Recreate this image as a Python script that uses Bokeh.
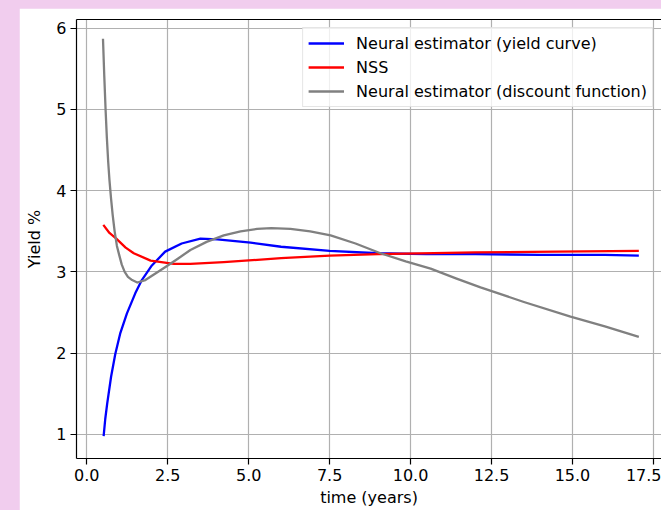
from bokeh.plotting import figure
from bokeh.models import (ColumnDataSource, Range1d, FixedTicker, NumeralTickFormatter,
                          LinearAxis, Legend, LegendItem)
from bokeh.embed import file_html
from bokeh.resources import INLINE

# ---- data ----
t_nn = [0.52, 0.57, 0.63, 0.75, 0.88, 1.03, 1.24, 1.5, 1.7, 2.01, 2.42, 2.93, 3.51, 4.03, 5.06,
        6.0, 7.5, 9.0, 10.5, 12.0, 14.0, 16.0, 17.05]
y_nn = [0.98, 1.19, 1.38, 1.71, 1.99, 2.24, 2.49, 2.74, 2.90, 3.08, 3.25, 3.35, 3.41, 3.40, 3.36,
        3.31, 3.26, 3.23, 3.22, 3.22, 3.21, 3.21, 3.20]

t_nss = [0.51, 0.7, 0.91, 1.2, 1.45, 1.97, 2.69, 3.2, 4.23, 6.0, 7.5, 9.0, 12.0, 14.5, 17.05]
y_nss = [3.58, 3.48, 3.41, 3.30, 3.23, 3.14, 3.10, 3.10, 3.12, 3.17, 3.20, 3.22, 3.24, 3.25, 3.26]

t_df = [0.5, 0.54, 0.58, 0.62, 0.66, 0.70, 0.75, 0.80, 0.86, 0.93, 1.0, 1.08, 1.17, 1.27, 1.4,
        1.56, 1.81, 2.12, 2.43, 2.8, 3.2, 3.7, 4.23, 4.75, 5.26, 5.7, 6.29, 6.9, 7.53, 8.3,
        9.07, 9.85, 10.62, 11.4, 12.16, 13.5, 14.94, 16.0, 17.05]
y_df = [5.87, 5.41, 5.00, 4.65, 4.36, 4.13, 3.90, 3.70, 3.50, 3.32, 3.21, 3.09, 3.00, 2.94, 2.90,
        2.87, 2.90, 2.98, 3.06, 3.16, 3.27, 3.37, 3.45, 3.50, 3.53, 3.54, 3.53, 3.50, 3.45, 3.35,
        3.23, 3.13, 3.04, 2.92, 2.81, 2.63, 2.45, 2.33, 2.20]

x_ticks = [0.0, 2.5, 5.0, 7.5, 10.0, 12.5, 15.0, 17.5]
y_ticks = [1, 2, 3, 4, 5, 6]

labels = ["Neural estimator (yield curve)", "NSS", "Neural estimator (discount function)"]
colors = ["#0000ff", "#ff0000", "#808080"]

FONT = "DejaVu Sans"
FS = "16px"

p = figure(width=642, height=502, output_backend="svg", toolbar_location=None,
           x_range=Range1d(-0.318, 17.75), y_range=Range1d(0.704, 6.107),
           min_border_left=57, min_border_top=11, min_border_bottom=52, min_border_right=0,
           x_axis_label="time (years)", y_axis_label="Yield %")
p.outline_line_color = None
p.background_fill_color = "white"
p.border_fill_color = "white"

p.xaxis.ticker = FixedTicker(ticks=x_ticks)
p.xaxis.formatter = NumeralTickFormatter(format="0.0")
p.yaxis.ticker = FixedTicker(ticks=y_ticks)

for ax in (p.xaxis[0], p.yaxis[0]):
    ax.axis_line_color = "black"
    ax.axis_line_width = 1.2
    ax.major_tick_line_color = "black"
    ax.major_tick_line_width = 1.2
    ax.major_tick_out = 6
    ax.major_tick_in = 0
    ax.minor_tick_line_color = None
    ax.major_label_text_font = FONT
    ax.major_label_text_font_size = FS
    ax.major_label_text_color = "black"
    ax.axis_label_text_font = FONT
    ax.axis_label_text_font_size = FS
    ax.axis_label_text_font_style = "normal"
    ax.axis_label_text_color = "black"
    ax.major_label_standoff = 4
p.xaxis.axis_label_standoff = 4
p.yaxis.axis_label_standoff = 9

top = LinearAxis(ticker=FixedTicker(ticks=[]), major_label_text_font_size="0px",
                 major_tick_out=0, major_tick_in=0, minor_tick_out=0, minor_tick_in=0,
                 axis_line_color="black", axis_line_width=1.2)
p.add_layout(top, "above")

p.grid.grid_line_color = "#b0b0b0"
p.grid.grid_line_width = 1.2

series = [(t_nn, y_nn), (t_nss, y_nss), (t_df, y_df)]
renderers = []
for (tx, ty), c in zip(series, colors):
    src = ColumnDataSource(dict(x=tx, y=ty))
    r = p.line("x", "y", source=src, line_color=c, line_width=2.3, line_join="round")
    renderers.append(r)

legend = Legend(items=[LegendItem(label=l, renderers=[r]) for l, r in zip(labels, renderers)],
                location="top_right")
legend.margin = 8
legend.padding = 5
legend.spacing = 4
legend.glyph_width = 36
legend.glyph_height = 20
legend.label_height = 20
legend.label_standoff = 12
legend.label_text_font = FONT
legend.label_text_font_size = FS
legend.label_text_color = "black"
legend.border_line_color = "#cccccc"
legend.border_line_width = 1
legend.background_fill_alpha = 0.8
p.add_layout(legend, "center")

html = file_html(p, INLINE)
head_end = html.rfind("</head>")
b = html.find("<body", head_end)
e = html.find(">", b)
html = (html[:b]
        + '<body style="margin:8px 0 0 19px;padding:0;height:auto;background-color:#f1cdee;">'
        + html[e + 1:])
open("out.html", "w").write(html)
